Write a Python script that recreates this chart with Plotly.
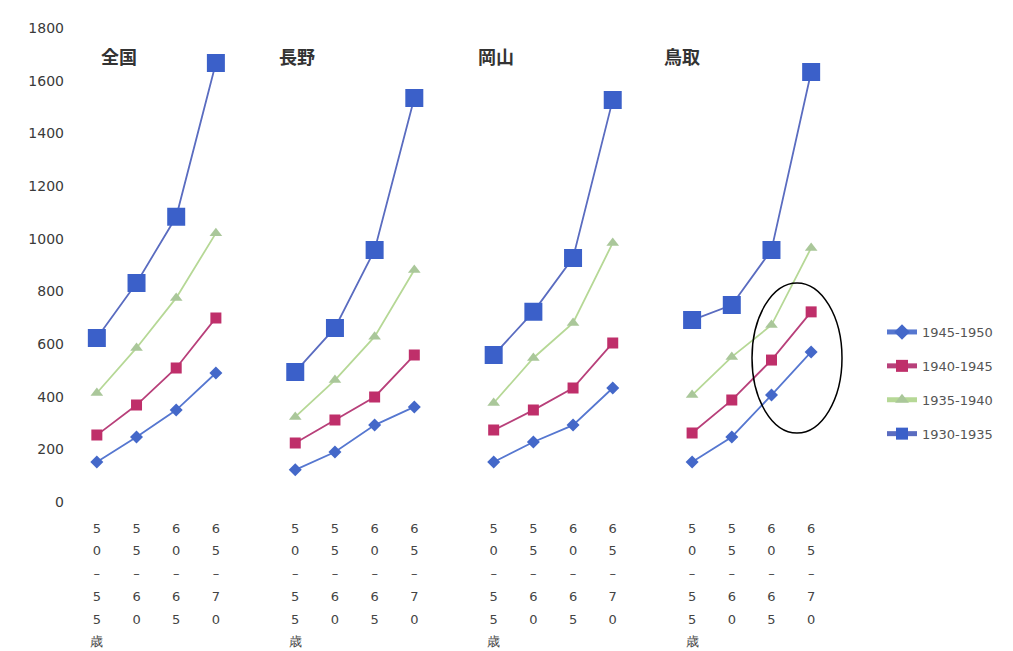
import plotly.graph_objects as go
from plotly.subplots import make_subplots

# data
regions = ["全国", "長野", "岡山", "鳥取"]
age_groups = ["50-55", "55-60", "60-65", "65-70"]
age_labels = [
    ["5", "0", "–", "5", "5", "歳"],
    ["5", "5", "–", "6", "0"],
    ["6", "0", "–", "6", "5"],
    ["6", "5", "–", "7", "0"],
]
cohorts = ["1945-1950", "1940-1945", "1935-1940", "1930-1935"]

values_1945_1950 = [
    [152, 247, 349, 490],
    [122, 190, 292, 361],
    [152, 228, 292, 433],
    [152, 247, 406, 570],
]
values_1940_1945 = [
    [254, 368, 509, 699],
    [224, 311, 399, 558],
    [273, 349, 433, 604],
    [262, 387, 539, 722],
]
values_1935_1940 = [
    [414, 585, 775, 1021],
    [323, 463, 628, 881],
    [376, 547, 680, 984],
    [406, 551, 672, 965],
]
values_1930_1935 = [
    [623, 832, 1083, 1667],
    [494, 661, 957, 1534],
    [558, 722, 927, 1527],
    [691, 748, 957, 1633],
]
series_values = [values_1945_1950, values_1940_1945, values_1935_1940, values_1930_1935]

styles = [
    dict(line="#5677d0", marker="#4468c9", symbol="diamond", size=10),
    dict(line="#b8407a", marker="#bf2f6a", symbol="square", size=11),
    dict(line="#b6d896", marker="#aac79a", symbol="triangle-up", size=11),
    dict(line="#5a6cc0", marker="#3b60c9", symbol="square", size=18),
]

fig = make_subplots(rows=1, cols=4, shared_yaxes=True, horizontal_spacing=1 / 19)

for p, region in enumerate(regions):
    for s, cohort in enumerate(cohorts):
        st = styles[s]
        fig.add_trace(
            go.Scatter(
                x=age_groups,
                y=series_values[s][p],
                mode="lines+markers",
                name=cohort,
                legendgroup=cohort,
                showlegend=(p == 0),
                line=dict(color=st["line"], width=1.8),
                marker=dict(color=st["marker"], symbol=st["symbol"], size=st["size"]),
            ),
            row=1, col=p + 1,
        )

    ticktext = [
        "<br>".join(f'<span style="font-size:13px">{c}</span>' for c in chars)
        for chars in age_labels
    ]
    fig.update_xaxes(
        type="category",
        range=[-0.5, 3.5],
        tickvals=age_groups,
        ticktext=ticktext,
        showgrid=False,
        showline=False,
        zeroline=False,
        ticks="",
        automargin=False,
        ticklabelstandoff=12,
        tickfont=dict(family="DejaVu Sans", size=17.5, color="#444"),
        row=1, col=p + 1,
    )

fig.update_yaxes(
    range=[0, 1800],
    dtick=200,
    showgrid=False,
    showline=False,
    zeroline=False,
    ticks="",
    automargin=False,
    ticklabelstandoff=12,
    tickfont=dict(family="DejaVu Sans", size=14, color="#3a3a3a"),
)

# panel titles (pixel positions measured on the reference, relative to plot area)
title_px = [119, 297, 496, 682]
for name, px in zip(regions, title_px):
    fig.add_annotation(
        text=f"<b>{name}</b>",
        x=(px - 77) / 754,
        y=1 - (56 - 28) / 474,
        xref="paper",
        yref="paper",
        xanchor="center",
        yanchor="middle",
        showarrow=False,
        font=dict(family="Noto Sans CJK JP", size=18, color="#333"),
    )

# hand-drawn ellipse around the 鳥取 older ages
fig.add_shape(
    type="circle",
    xref="paper",
    yref="paper",
    x0=(752 - 77) / 754,
    x1=(842 - 77) / 754,
    y0=1 - (433 - 28) / 474,
    y1=1 - (283 - 28) / 474,
    line=dict(color="black", width=1.5),
)

# the page body adds 8px around the figure, so the figure is 8px smaller
fig.update_layout(
    width=1005,
    height=643,
    margin=dict(l=69, r=182, t=20, b=149),
    plot_bgcolor="white",
    paper_bgcolor="white",
    font=dict(family="DejaVu Sans", color="#444"),
    legend=dict(
        x=(882 - 77) / 754,
        xanchor="left",
        y=1 - (317 - 28) / 474,
        yanchor="top",
        traceorder="grouped",
        tracegroupgap=14,
        font=dict(family="DejaVu Sans", size=13, color="#555"),
        itemsizing="constant",
    ),
)

fig.write_html("out.html")
